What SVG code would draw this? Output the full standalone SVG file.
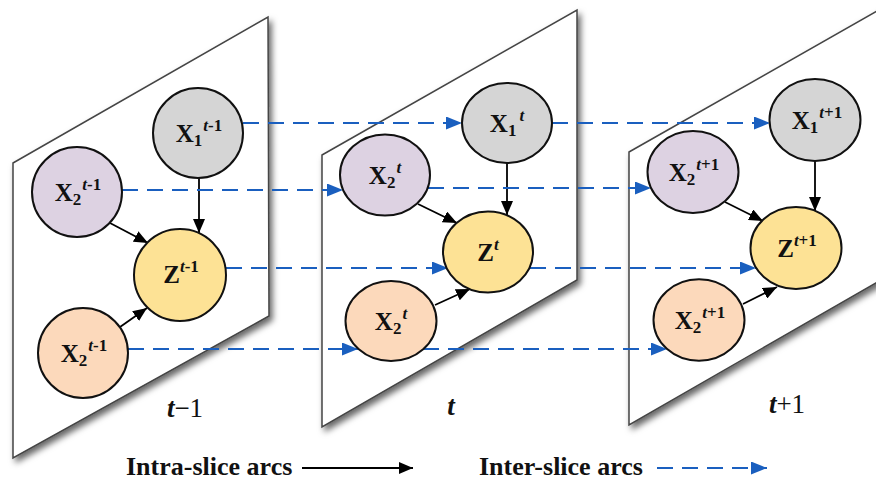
<svg xmlns="http://www.w3.org/2000/svg" width="876" height="480" viewBox="0 0 876 480">
<defs>
<filter id="sh" x="-10%" y="-10%" width="130%" height="130%">
<feDropShadow dx="3" dy="4" stdDeviation="3" flood-color="#000" flood-opacity="0.6"/>
</filter>
<marker id="ah" markerUnits="userSpaceOnUse" markerWidth="14" markerHeight="12" refX="14" refY="6" orient="auto">
<path d="M0,0 L14,6 L0,12 Z" fill="#000"/>
</marker>
<marker id="bh" markerUnits="userSpaceOnUse" markerWidth="16" markerHeight="13" refX="16" refY="6.5" orient="auto">
<path d="M0,0 L16,6.5 L0,13 Z" fill="#1a5fbf"/>
</marker>
</defs>
<style>
.panel{fill:#fff;stroke:#444;stroke-width:1.5;filter:url(#sh)}
.n{stroke:#111;stroke-width:2}
.gray{fill:#d5d5d5}
.purple{fill:#ddd2e2}
.yellow{fill:#fde295}
.orange{fill:#fcd9bb}
.lbl{font-family:"Liberation Serif","Times New Roman",serif;font-weight:bold;font-size:25px;fill:#111;text-anchor:middle}
.s{font-size:17px}
.i{font-style:italic}
.intra{stroke:#000;stroke-width:1.8;fill:none;marker-end:url(#ah)}
.inter{stroke:#1a5fbf;stroke-width:2;fill:none;stroke-dasharray:16 9;marker-end:url(#bh)}
.pl{font-family:"Liberation Serif","Times New Roman",serif;font-size:27px;fill:#111;text-anchor:middle}
.leg{font-family:"Liberation Serif","Times New Roman",serif;font-weight:bold;font-size:26px;fill:#111}
</style>

<g id="panels">
<polygon id="panel1" class="panel" points="13,163 268,17 269,316 13,458"/>
<polygon id="panel2" class="panel" points="322,155 577,10 577,280 322,427"/>
<polygon id="panel3" class="panel" points="629,152 900,-2 900,269 629,425"/>
</g>

<g id="connectors">
<path class="intra" d="M199,178 L199,233"/>
<path class="intra" d="M110,223 L148,243"/>
<path class="intra" d="M120,327 L147,308"/>
<path class="intra" d="M507,163 L507,215"/>
<path class="intra" d="M418,204 L457,223"/>
<path class="intra" d="M435,305 L470,289"/>
<path class="intra" d="M815,161 L815,211"/>
<path class="intra" d="M725,202 L763,221"/>
<path class="intra" d="M743,304 L777,287"/>
<path class="inter" d="M243,123 L462,123"/>
<path class="inter" d="M552,123 L770,123"/>
<path class="inter" d="M122,190 L343,190"/>
<path class="inter" d="M428,188 L651,188"/>
<path class="inter" d="M226,268 L448,268"/>
<path class="inter" d="M530,268 L756,268"/>
<path class="inter" d="M128,349 L358,349"/>
<path class="inter" d="M423,349 L667,349"/>
</g>

<g id="x1_tm1"><ellipse class="n gray" cx="198" cy="133" rx="45" ry="45"/>
<text class="lbl" x="199" y="142">X<tspan class="s" dy="4">1</tspan><tspan class="s i" dy="-15" dx="1">t</tspan><tspan class="s">-1</tspan></text></g>
<g id="x2a_tm1"><ellipse class="n purple" cx="77" cy="192" rx="45" ry="45"/>
<text class="lbl" x="78" y="201">X<tspan class="s" dy="4">2</tspan><tspan class="s i" dy="-15" dx="1">t</tspan><tspan class="s">-1</tspan></text></g>
<g id="z_tm1"><ellipse class="n yellow" cx="180" cy="275" rx="46" ry="46"/>
<text class="lbl" x="181" y="283">Z<tspan class="s i" dy="-11">t</tspan><tspan class="s">-1</tspan></text></g>
<g id="x2b_tm1"><ellipse class="n orange" cx="83" cy="353" rx="45" ry="45"/>
<text class="lbl" x="84" y="362">X<tspan class="s" dy="4">2</tspan><tspan class="s i" dy="-15" dx="1">t</tspan><tspan class="s">-1</tspan></text></g>

<g id="x1_t"><ellipse class="n gray" cx="507" cy="123" rx="45" ry="40"/>
<text class="lbl" x="507" y="132">X<tspan class="s" dy="4">1</tspan><tspan class="s i" dy="-15" dx="3">t</tspan></text></g>
<g id="x2a_t"><ellipse class="n purple" cx="385" cy="175" rx="45" ry="40.5"/>
<text class="lbl" x="385" y="184">X<tspan class="s" dy="4">2</tspan><tspan class="s i" dy="-15" dx="1">t</tspan></text></g>
<g id="z_t"><ellipse class="n yellow" cx="488" cy="252" rx="45" ry="40.5"/>
<text class="lbl" x="488" y="261">Z<tspan class="s i" dy="-11">t</tspan></text></g>
<g id="x2b_t"><ellipse class="n orange" cx="391" cy="321" rx="45.5" ry="40"/>
<text class="lbl" x="391" y="330">X<tspan class="s" dy="4">2</tspan><tspan class="s i" dy="-15" dx="1">t</tspan></text></g>

<g id="x1_tp1"><ellipse class="n gray" cx="815" cy="120" rx="45.5" ry="41"/>
<text class="lbl" x="817" y="129">X<tspan class="s" dy="4">1</tspan><tspan class="s i" dy="-15" dx="1">t</tspan><tspan class="s">+1</tspan></text></g>
<g id="x2a_tp1"><ellipse class="n purple" cx="693" cy="172" rx="45.5" ry="41"/>
<text class="lbl" x="694" y="181">X<tspan class="s" dy="4">2</tspan><tspan class="s i" dy="-15" dx="1">t</tspan><tspan class="s">+1</tspan></text></g>
<g id="z_tp1"><ellipse class="n yellow" cx="796" cy="248" rx="45.5" ry="41"/>
<text class="lbl" x="797" y="257">Z<tspan class="s i" dy="-11">t</tspan><tspan class="s">+1</tspan></text></g>
<g id="x2b_tp1"><ellipse class="n orange" cx="699" cy="320" rx="45.5" ry="40.7"/>
<text class="lbl" x="700" y="329">X<tspan class="s" dy="4">2</tspan><tspan class="s i" dy="-15" dx="1">t</tspan><tspan class="s">+1</tspan></text></g>

<g id="slice_labels">
<text class="pl" x="185" y="417"><tspan class="i" font-weight="bold">t</tspan>−1</text>
<text class="pl" x="451" y="415"><tspan class="i" font-weight="bold">t</tspan></text>
<text class="pl" x="787" y="413"><tspan class="i" font-weight="bold">t</tspan>+1</text>
</g>

<g id="legend">
<text class="leg" x="126" y="475">Intra-slice arcs</text>
<path class="intra" d="M302,468 L413,468"/>
<text class="leg" x="479" y="475">Inter-slice arcs</text>
<path class="inter" d="M657,468 L767,468"/>
</g>
</svg>
